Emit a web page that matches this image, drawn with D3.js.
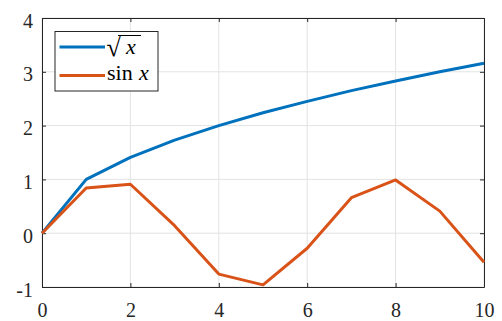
<!DOCTYPE html>
<html>
<head>
<meta charset="utf-8">
<script src="https://cdn.jsdelivr.net/npm/d3@7"></script>
<style>
  body { margin: 0; background: #fff; }
  svg { display: block; }
</style>
</head>
<body>
<div id="chart"></div>
<script>
// data
var xValues = [0, 1, 2, 3, 4, 5, 6, 7, 8, 9, 10];
var sqrtValues = [0, 1, 1.41, 1.73, 2, 2.24, 2.45, 2.65, 2.83, 3, 3.16];
var sinValues = [0, 0.84, 0.91, 0.14, -0.76, -0.96, -0.28, 0.66, 0.99, 0.41, -0.54];
var xTicks = [0, 2, 4, 6, 8, 10];
var yTicks = [-1, 0, 1, 2, 3, 4];

var svgWidth = 502;
var svgHeight = 321;

var margin = { top: 18, right: 18, bottom: 34, left: 42 };
var width = svgWidth - margin.left - margin.right;
var height = svgHeight - margin.top - margin.bottom;

var serif = "'Liberation Serif'";

var svg = d3.select("#chart")
  .append("svg")
  .attr("width", svgWidth)
  .attr("height", svgHeight);

var plot = svg.append("g")
  .attr("transform", `translate(${margin.left}, ${margin.top})`);

var x = d3.scaleLinear().domain([0, 10]).range([0, width]);
var y = d3.scaleLinear().domain([-1, 4]).range([height, 0]);

// grid
plot.append("g")
  .selectAll("line")
  .data(xTicks)
  .enter()
  .append("line")
  .attr("x1", d => x(d)).attr("x2", d => x(d))
  .attr("y1", 0).attr("y2", height)
  .attr("stroke", "#e3e3e3").attr("stroke-width", 1);

plot.append("g")
  .selectAll("line")
  .data(yTicks)
  .enter()
  .append("line")
  .attr("x1", 0).attr("x2", width)
  .attr("y1", d => y(d)).attr("y2", d => y(d))
  .attr("stroke", "#e3e3e3").attr("stroke-width", 1);

// axes, ticks inward
var fmt = d => String(d);
var bottomAxis = d3.axisBottom(x).tickValues(xTicks).tickSizeInner(-4).tickSizeOuter(0).tickPadding(16).tickFormat(fmt);
var leftAxis = d3.axisLeft(y).tickValues(yTicks).tickSizeInner(-4).tickSizeOuter(0).tickPadding(9).tickFormat(fmt);
var topAxis = d3.axisTop(x).tickValues(xTicks).tickSizeInner(-4).tickSizeOuter(0).tickFormat("");
var rightAxis = d3.axisRight(y).tickValues(yTicks).tickSizeInner(-4).tickSizeOuter(0).tickFormat("");

var gx = plot.append("g").attr("transform", `translate(0, ${height})`).call(bottomAxis);
var gy = plot.append("g").call(leftAxis);
var gt = plot.append("g").call(topAxis);
var gr = plot.append("g").attr("transform", `translate(${width}, 0)`).call(rightAxis);

[gx, gy, gt, gr].forEach(function(g) {
  g.select(".domain").attr("stroke", "#262626").attr("stroke-width", 1);
  g.selectAll(".tick line").attr("stroke", "#262626");
  g.selectAll(".tick text")
    .attr("fill", "#262626")
    .style("font-family", serif)
    .style("font-size", "20px");
});
gy.selectAll(".tick text").attr("dy", "0.45em");

// lines
var line = d3.line().x((d, i) => x(xValues[i])).y(d => y(d));

plot.append("path")
  .datum(sqrtValues)
  .attr("d", line)
  .attr("fill", "none")
  .attr("stroke", "#0072BD")
  .attr("stroke-width", 3)
  .attr("stroke-linejoin", "round");

plot.append("path")
  .datum(sinValues)
  .attr("d", line)
  .attr("fill", "none")
  .attr("stroke", "#D95319")
  .attr("stroke-width", 3)
  .attr("stroke-linejoin", "round");

// legend
var legend = svg.append("g").attr("transform", "translate(55, 31.5)");

legend.append("rect")
  .attr("width", 103).attr("height", 59.5)
  .attr("fill", "#fff").attr("stroke", "#262626").attr("stroke-width", 1);

legend.append("line")
  .attr("x1", 4.5).attr("x2", 50).attr("y1", 15.5).attr("y2", 15.5)
  .attr("stroke", "#0072BD").attr("stroke-width", 3);
legend.append("line")
  .attr("x1", 4.5).attr("x2", 50).attr("y1", 44).attr("y2", 44)
  .attr("stroke", "#D95319").attr("stroke-width", 3);

// sqrt x
legend.append("text")
  .attr("x", 51.5).attr("y", 24.5)
  .style("font-family", serif)
  .style("font-size", "26px")
  .attr("fill", "#000")
  .text("√");
legend.append("line")
  .attr("x1", 63).attr("x2", 86).attr("y1", 4).attr("y2", 4)
  .attr("stroke", "#000").attr("stroke-width", 1);
legend.append("text")
  .attr("x", 71).attr("y", 22)
  .style("font-family", serif)
  .style("font-size", "22px")
  .style("font-style", "italic")
  .attr("fill", "#000")
  .text("x");

// sin x
var sinText = legend.append("text")
  .attr("x", 52).attr("y", 48.5)
  .style("font-family", serif)
  .style("font-size", "22px")
  .attr("fill", "#000");
sinText.append("tspan").text("sin");
sinText.append("tspan").attr("x", 84).style("font-style", "italic").text("x");
</script>
</body>
</html>
